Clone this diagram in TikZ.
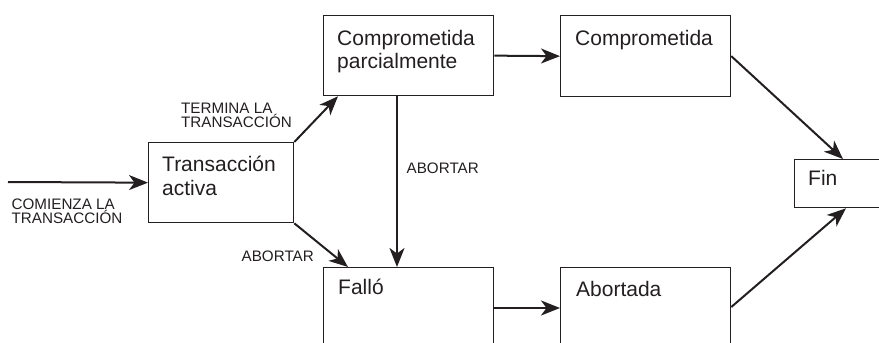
\documentclass[tikz,border=0pt]{standalone}
\usepackage{fontspec}
\setmainfont{Liberation Sans}
\usetikzlibrary{arrows.meta,calc}
\definecolor{ink}{HTML}{231F20}
\begin{document}
\begin{tikzpicture}[x=1pt,y=-1pt,
  box/.style={draw=ink, line width=1.3pt, inner sep=0pt, anchor=north west},
  big/.style={text=ink, font=\fontsize{21}{23.3}\selectfont, align=left, inner sep=0pt, anchor=base west},
  small/.style={text=ink, font=\fontsize{15.2}{14}\selectfont, align=left, inner sep=0pt, anchor=base west},
  arr/.style={draw=ink, line width=2pt, -{Stealth[length=19pt,width=15pt,inset=5.5pt]}}]
\useasboundingbox (0,0) rectangle (879,343);
\clip (0,0) rectangle (879,343);
% boxes
\node[box, minimum width=145pt, minimum height=80pt] (ta) at (148,142) {};
\node[box, minimum width=170pt, minimum height=80pt] (cp) at (323,15) {};
\node[box, minimum width=170pt, minimum height=81pt] (cm) at (560,15) {};
\node[box, minimum width=95pt, minimum height=48pt] (fin) at (794,159) {};
\node[box, minimum width=170pt, minimum height=100pt] (fa) at (323,267) {};
\node[box, minimum width=170pt, minimum height=100pt] (ab) at (560,267) {};
% box texts (base anchor = baseline of last line)
\node[big] (tta) at ($(ta.north west)+(14,53)$) {Transacción\\activa};
\node[big] (tcp) at ($(cp.north west)+(14,53.3)$) {Comprometida\\parcialmente};
\node[big] (tcm) at ($(cm.north west)+(15,30)$) {Comprometida};
\node[big] (tfin) at ($(fin.north west)+(14,26)$) {Fin};
\node[big] (tfa) at ($(fa.north west)+(15,27)$) {Falló};
\node[big] (tab) at ($(ab.north west)+(16,29)$) {Abortada};
% connectors
\coordinate (s) at (8,182);
\draw[arr] (s) -- (ta.west);
\draw[arr] (ta.north east) -- ($(cp.south west)+(15,0)$);
\draw[arr] (ta.south east) -- ($(fa.north west)+(25,0)$);
\draw[arr] ($(cp.south west)+(74,0)$) -- ($(fa.north west)+(74,0)$);
\draw[arr] (cp.east) -- (cm.west);
\draw[arr] ($(fa.north east)+(0,41)$) -- ($(ab.north west)+(0,41)$);
\draw[arr] (cm.east) -- ($(fin.north west)+(49,0)$);
\draw[arr] ($(ab.north east)+(0,40)$) -- ($(fin.south west)+(52,0)$);
% labels
\node[small] (l1) at ($(s)+(3.5,41.3)$) {COMIENZA LA\\TRANSACCIÓN};
\node[small] (l2) at (181,127) {TERMINA LA\\TRANSACCIÓN};
\node[small] (l3) at (241.5,261.7) {ABORTAR};
\node[small] (l4) at (406.5,173.3) {ABORTAR};
\end{tikzpicture}
\end{document}
